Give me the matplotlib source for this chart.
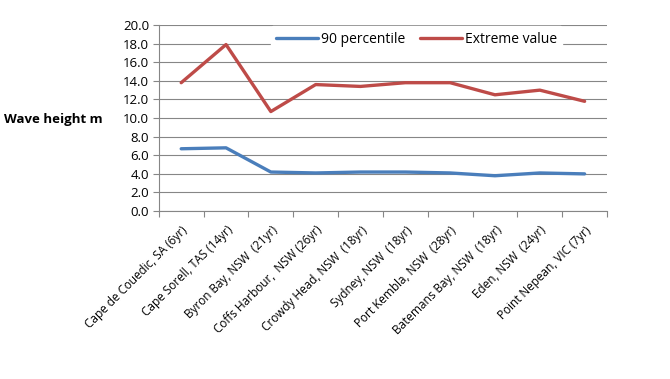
import numpy as np
import matplotlib
matplotlib.use("Agg")
import matplotlib.pyplot as plt

sites = ["Cape de Couedic, SA (6yr)", "Cape Sorell, TAS (14yr)", "Byron Bay, NSW  (21yr)",
         "Coffs Harbour,  NSW (26yr)", "Crowdy Head, NSW  (18yr)", "Sydney, NSW  (18yr)",
         "Port Kembla, NSW  (28yr)", "Batemans Bay, NSW  (18yr)", "Eden, NSW  (24yr)",
         "Point Nepean, VIC (7yr)"]
p90 = [6.7, 6.8, 4.2, 4.1, 4.2, 4.2, 4.1, 3.8, 4.1, 4.0]
extreme = [13.8, 17.9, 10.7, 13.6, 13.4, 13.8, 13.8, 12.5, 13.0, 11.8]
yticks = np.arange(0, 20.1, 2.0)

plt.rcParams["font.family"] = ["Open Sans", "DejaVu Sans"]

fig = plt.figure(figsize=(6.7, 3.79), dpi=100)
ax = fig.add_axes([0.237, 0.443, 0.669, 0.491])

x = np.arange(len(sites))
ax.plot(x, p90, color="#4A7EBB", lw=2.4, label="90 percentile", solid_capstyle="round")
ax.plot(x, extreme, color="#BE4B48", lw=2.4, label="Extreme value", solid_capstyle="round")

ax.set_xlim(-0.5, len(sites) - 0.5)
ax.set_ylim(0, 20)
ax.set_yticks(yticks)
ax.set_yticklabels([f"{v:.1f}" for v in yticks], fontsize=9.5)
ax.yaxis.grid(True, color="#868686", lw=0.8)
ax.set_axisbelow(True)

# categories between tick marks, Excel style
ax.set_xticks(np.arange(len(sites) + 1) - 0.5)
ax.set_xticklabels([])
ax.set_xticks(x, minor=True)
ax.set_xticklabels(sites, minor=True, rotation=45, ha="right", rotation_mode="anchor",
                   fontsize=8.5)
ax.tick_params(axis="x", which="minor", length=0, pad=9)
ax.tick_params(axis="x", which="major", length=4, color="#868686", direction="out")
ax.tick_params(axis="y", length=4, color="#868686", direction="out", pad=3)

for s in ["top", "right"]:
    ax.spines[s].set_visible(False)
for s in ["left", "bottom"]:
    ax.spines[s].set_color("#868686")
    ax.spines[s].set_linewidth(0.8)

fig.text(4 / 670, 1 - 119 / 379, "Wave height m", fontsize=9.5, fontweight="bold",
         ha="left", va="center")

leg = ax.legend(loc="upper center", bbox_to_anchor=(0.575, 1.0), ncol=2, frameon=True,
                fontsize=10, handlelength=3.0, columnspacing=1.1, handletextpad=0.2,
                borderaxespad=0.1)
leg.get_frame().set_edgecolor("white")
leg.get_frame().set_facecolor("white")
leg.get_frame().set_alpha(1.0)

fig.savefig("out.png", dpi=100)
